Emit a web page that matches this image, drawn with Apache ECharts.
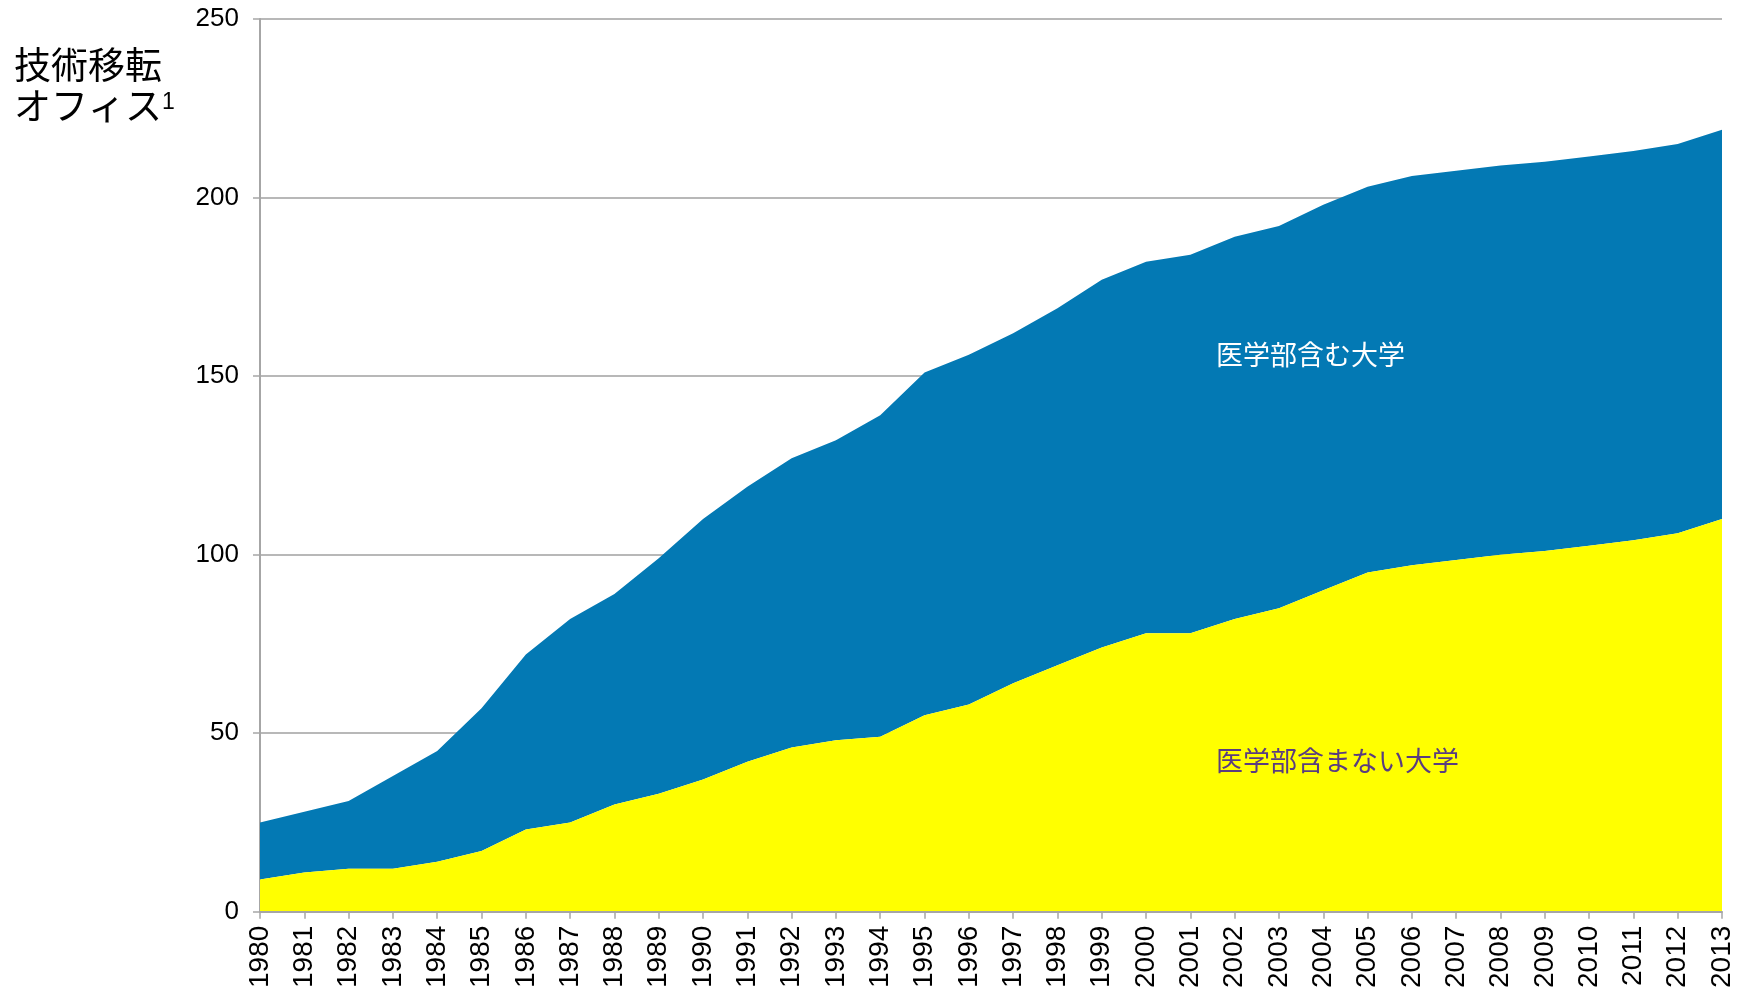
<!DOCTYPE html>
<html>
<head>
<meta charset="utf-8">
<script src="https://cdn.jsdelivr.net/npm/echarts@6/dist/echarts.min.js"></script>
<style>
html,body{margin:0;padding:0;background:#fff;}
#chart{width:1737px;height:991px;}
</style>
</head>
<body>
<div id="chart"></div>
<script>
const years = ['1980','1981','1982','1983','1984','1985','1986','1987','1988','1989','1990','1991','1992','1993','1994','1995','1996','1997','1998','1999','2000','2001','2002','2003','2004','2005','2006','2007','2008','2009','2010','2011','2012','2013'];
// 医学部含まない大学 (bottom layer)
const nonMedical = [9,11,12,12,14,17,23,25,30,33,37,42,46,48,49,55,58,64,69,74,78,78,82,85,90,95,97,98.5,100,101,102.5,104,106,110];
// stacked totals (top line)
const totals = [25,28,31,38,45,57,72,82,89,99,110,119,127,132,139,151,156,162,169,177,182,184,189,192,198,203,206,207.5,209,210,211.5,213,215,219];
// 医学部含む大学 = totals - nonMedical
const medical = totals.map((t, i) => +(t - nonMedical[i]).toFixed(1));
const yTicks = [0, 50, 100, 150, 200, 250];
const seriesNames = ['医学部含まない大学', '医学部含む大学'];
const titleLines = ['技術移転', 'オフィス'];

const chart = echarts.init(document.getElementById('chart'), null, {renderer: 'canvas'});
const numFont = '"Liberation Sans", Arial, sans-serif';
const jpFont = '"Noto Sans CJK JP", sans-serif';

chart.setOption({
  animation: false,
  backgroundColor: '#ffffff',
  grid: {left: 260, right: 15, top: 19, bottom: 77, containLabel: false},
  xAxis: {
    type: 'category',
    data: years,
    boundaryGap: false,
    axisLine: {show: true, lineStyle: {color: '#a6a6a6', width: 2}},
    axisTick: {show: true, alignWithLabel: true, length: 7, lineStyle: {color: '#a6a6a6', width: 1.5}},
    axisLabel: {rotate: 90, interval: 0, fontSize: 28, fontFamily: numFont, color: '#000', margin: 14},
    splitLine: {show: false},
    z: 10
  },
  yAxis: {
    type: 'value',
    min: yTicks[0],
    max: yTicks[yTicks.length - 1],
    interval: 50,
    axisLine: {show: true, lineStyle: {color: '#a6a6a6', width: 2}},
    axisTick: {show: true, length: 7, lineStyle: {color: '#a6a6a6', width: 1.5}},
    axisLabel: {fontSize: 26, fontFamily: numFont, color: '#000', margin: 21},
    splitLine: {show: true, lineStyle: {color: '#a0a0a0', width: 1.5}}
  },
  series: [
    {
      name: seriesNames[0],
      type: 'line',
      stack: 'total',
      data: nonMedical,
      symbol: 'none',
      lineStyle: {width: 0},
      areaStyle: {color: '#ffff00', opacity: 1},
      z: 3
    },
    {
      name: seriesNames[1],
      type: 'line',
      stack: 'total',
      data: medical,
      symbol: 'none',
      lineStyle: {width: 0},
      areaStyle: {color: '#0379b4', opacity: 1},
      z: 2
    }
  ],
  graphic: [
    {
      type: 'text', left: 14, top: 44, z: 100,
      style: {
        text: titleLines[0] + '\n' + titleLines[1] + '{sup|1}',
        font: '37px ' + jpFont,
        fill: '#000',
        lineHeight: 41,
        rich: {sup: {fontSize: 23, fontFamily: numFont, verticalAlign: 'top', padding: [6,0,6,0], fill: '#000'}}
      }
    },
    {
      type: 'text', left: 1216, top: 341, z: 100,
      style: {text: seriesNames[1], font: '27px ' + jpFont, fill: '#ffffff'}
    },
    {
      type: 'text', left: 1216, top: 747, z: 100,
      style: {text: seriesNames[0], font: '27px ' + jpFont, fill: '#5a3c80'}
    }
  ]
});
</script>
</body>
</html>
